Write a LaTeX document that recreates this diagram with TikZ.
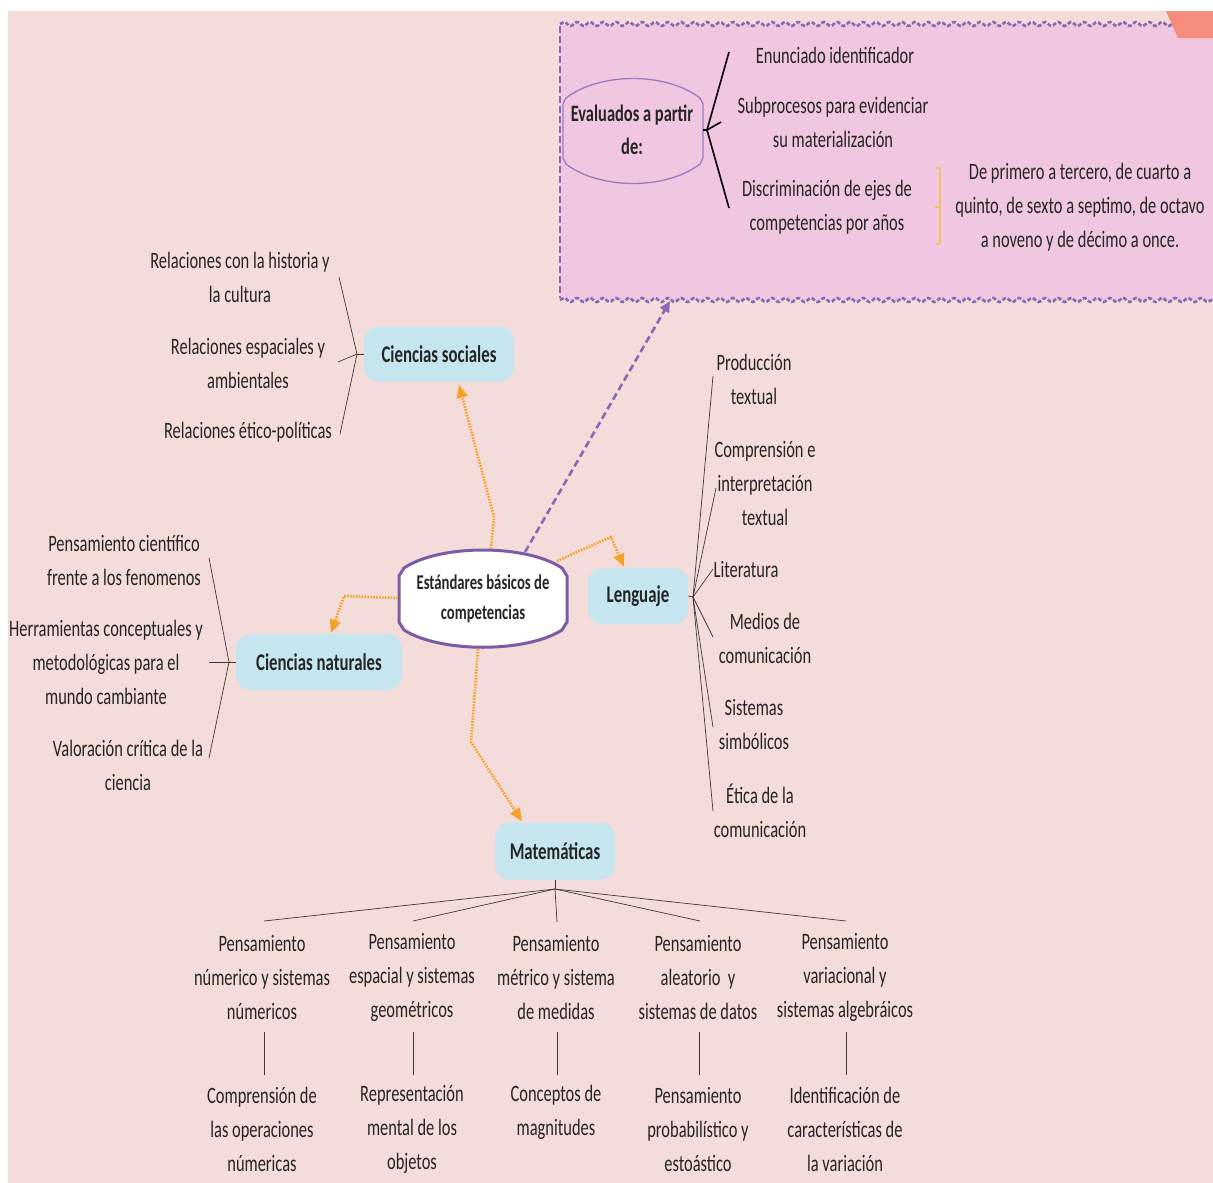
\documentclass[tikz,border=0pt]{standalone}
\usepackage{fontspec}
\setmainfont{Carlito}[FakeStretch=0.7]
\usetikzlibrary{arrows.meta,decorations.pathmorphing,calc}
\definecolor{bgpink}{HTML}{F4DCDB}
\definecolor{boxpink}{HTML}{F0C6E0}
\definecolor{wavy}{HTML}{8A68B5}
\definecolor{nodeblue}{HTML}{C5E6EF}
\definecolor{hubpurple}{HTML}{7B5AA6}
\definecolor{evalpurple}{HTML}{9A7BC2}
\definecolor{orangedot}{HTML}{F5A229}
\definecolor{ink}{HTML}{252525}
\definecolor{wirec}{HTML}{3A3A3A}
\definecolor{bracketc}{HTML}{F3C266}
\definecolor{cornerc}{HTML}{F58C7C}
\begin{document}
\begin{tikzpicture}[x=1pt,y=-1pt,
  lbl/.style={font=\fontsize{23.5}{34}\selectfont, text=ink, align=center, inner sep=0pt},
  topic/.style={fill=nodeblue, rounded corners=15pt, text=ink, inner sep=0pt,
    font=\bfseries\fontsize{24}{30}\selectfont},
  wire/.style={draw=wirec, line width=0.7pt},
  feed/.style={draw=orangedot, line width=2.6pt, dash pattern=on 1.6pt off 1.3pt,
    -{Triangle[length=13pt,width=11pt]}},
  link/.style={draw=wavy, line width=2.6pt, dash pattern=on 7pt off 4pt,
    -{Triangle[length=11pt,width=10pt]}},
  edge wave/.style={draw=wavy, line width=2.6pt, dash pattern=on 4pt off 2pt,
    decorate, decoration={snake, segment length=13pt, amplitude=2pt}},
]
\useasboundingbox (0,0) rectangle (1213,1183);
\fill[white] (0,0) rectangle (1213,1183);
\fill[bgpink] (8,11) rectangle (1213,1183);

% ---------- framed panel with the evaluation criteria ----------
\fill[boxpink] (560,24) rectangle (1213,300);
\draw[edge wave] (560,24) -- (1213,24);
\draw[edge wave] (560,300) -- (1213,300);
\draw[draw=wavy, line width=2.4pt, dash pattern=on 7pt off 3pt] (560,26) -- (560,298);
\fill[cornerc] (1166,11) -- (1213,11) -- (1213,38) -- (1178,38) -- cycle;

\draw[evalpurple, line width=1.3pt]
  (566,98) .. controls (600,72) and (666,72) .. (700,98) -- (703,104) -- (703,158)
  -- (700,164) .. controls (666,190) and (600,190) .. (566,164) -- (563,158) -- (563,104) -- cycle;
\node[lbl, font=\bfseries\fontsize{23.5}{33}\selectfont] (eval) at (632,130) {Evaluados a partir\\de:};

\node[lbl] (e1) at (835,55) {Enunciado identificador};
\node[lbl] (e2) at (833,122) {Subprocesos para evidenciar\\su materialización};
\node[lbl] (e3) at (827,207) {Discriminación de ejes de\\competencias por años};
\node[lbl] (e4) at (1080,207) {De primero a tercero, de cuarto a\\quinto, de sexto a septimo, de octavo\\a noveno y de décimo a once.};

\coordinate (eOut) at (703,130);
\coordinate (eJ) at (707,130);
\coordinate (eA) at (729,52);
\coordinate (eB) at (721,122);
\coordinate (eC) at (729,208);
\draw[black, line width=1.6pt] (eOut) -- (eJ) -- (eA);
\draw[black, line width=1.6pt] (eJ) -- (eB);
\draw[black, line width=1.6pt] (eJ) -- (eC);

\coordinate (bT) at (936,168);
\coordinate (bB) at (936,244);
\coordinate (bM) at (935,207);
\draw[bracketc, line width=1.3pt] (bT) -- (940,168) -- (940,244) -- (bB);
\draw[bracketc, line width=1.3pt] (940,207) -- (bM);

% ---------- central hub ----------
\draw[hubpurple, line width=3pt, fill=white]
  (404,568) .. controls (440,544) and (526,544) .. (562,568) -- (567,576) -- (567,622)
  -- (562,630) .. controls (526,653) and (440,653) .. (404,630) -- (399,622) -- (399,576) -- cycle;
\node[lbl, font=\bfseries\fontsize{21}{30}\selectfont] (hub) at (483,599) {Estándares básicos de\\competencias};
\coordinate (hubN) at (491,549);
\coordinate (hubNE) at (557,561);
\coordinate (hubW) at (398,598);
\coordinate (hubS) at (478,649);
\coordinate (hubLink) at (525,552);

% ---------- second level topics ----------
\node[topic, minimum width=150pt, minimum height=55pt] (soc) at (439,354) {Ciencias sociales};
\node[topic, minimum width=100pt, minimum height=56pt] (lang) at (638,596) {Lenguaje};
\node[topic, minimum width=166pt, minimum height=56pt] (nat) at (319,662) {Ciencias naturales};
\node[topic, minimum width=120pt, minimum height=57pt] (mat) at (555,851) {Matemáticas};

\draw[feed] (hubN) -- (494,517) -- ($(soc.south)+(20,3)$);
\draw[feed] (hubNE) -- (611,537) -- ($(lang.north)+(-14,-1)$);
\draw[feed] (hubW) -- (344,596) -- ($(nat.north)+(12,-1)$);
\draw[feed] (hubS) -- (471,742) -- ($(mat.north)+(-33,-1)$);
\draw[link] (hubLink) -- (670,301);

% ---------- Ciencias sociales ----------
\node[lbl] (s1) at (240,277) {Relaciones con la historia y\\la cultura};
\node[lbl] (s2) at (248,363) {Relaciones espaciales y\\ambientales};
\node[lbl] (s3) at (248,432) {Relaciones ético-políticas};
\coordinate (sJ) at (357,354);
\coordinate (sA) at (339,277);
\coordinate (sB) at (338,362);
\coordinate (sC) at (340,434);
\draw[wire] (soc.west) -- (sJ);
\draw[wire] (sJ) -- (sA);
\draw[wire] (sJ) -- (sB);
\draw[wire] (sJ) -- (sC);

% ---------- Ciencias naturales ----------
\node[lbl] (n1) at (124,560) {Pensamiento científico\\frente a los fenomenos};
\node[lbl] (n2) at (106,662) {Herramientas conceptuales y\\metodológicas para el\\mundo cambiante};
\node[lbl] (n3) at (128,765) {Valoración crítica de la\\ciencia};
\coordinate (nJ) at (229,662);
\coordinate (nA) at (209,558);
\coordinate (nB) at (209,662);
\coordinate (nC) at (209,758);
\draw[wire] (nat.west) -- (nJ);
\draw[wire] (nJ) -- (nA);
\draw[wire] (nJ) -- (nB);
\draw[wire] (nJ) -- (nC);

% ---------- Lenguaje ----------
\node[lbl] (l1) at (754,379) {Producción\\textual};
\node[lbl] (l2) at (765,483) {Comprensión e\\interpretación\\textual};
\node[lbl] (l3) at (746,569) {Literatura};
\node[lbl] (l4) at (765,638) {Medios de\\comunicación};
\node[lbl] (l5) at (754,724) {Sistemas\\simbólicos};
\node[lbl] (l6) at (760,811) {Ética de la\\comunicación};
\coordinate (lJ) at (693,597);
\coordinate (lA) at (713,376);
\coordinate (lB) at (716,488);
\coordinate (lC) at (713,569);
\coordinate (lD) at (713,637);
\coordinate (lE) at (713,727);
\coordinate (lF) at (713,811);
\draw[wire] (lang.east) -- (lJ);
\foreach \e in {lA,lB,lC,lD,lE,lF} \draw[wire] (lJ) -- (\e);

% ---------- Matemáticas ----------
\node[lbl] (p1) at (262,977) {Pensamiento\\númerico y sistemas\\númericos};
\node[lbl] (p2) at (412,977) {Pensamiento\\espacial y sistemas\\geométricos};
\node[lbl] (p3) at (556,977) {Pensamiento\\métrico y sistema\\de medidas};
\node[lbl] (p4) at (698,977) {Pensamiento\\aleatorio\ \ y\\sistemas de datos};
\node[lbl] (p5) at (845,977) {Pensamiento\\variacional y\\sistemas algebráicos};

\node[lbl] (q1) at (262,1129) {Comprensión de\\las operaciones\\númericas};
\node[lbl] (q2) at (412,1129) {Representación\\mental de los\\objetos};
\node[lbl] (q3) at (556,1112) {Conceptos de\\magnitudes};
\node[lbl] (q4) at (698,1129) {Pensamiento\\probabilístico y\\estoástico};
\node[lbl] (q5) at (845,1129) {Identificación de\\características de\\la variación};

\coordinate (mJ) at (555,889);
\draw[wire] (mat.south) -- (mJ);
\coordinate (mA) at (264,921);
\coordinate (mB) at (413,921);
\coordinate (mC) at (557,922);
\coordinate (mD) at (700,921);
\coordinate (mE) at (846,921);
\foreach \e in {mA,mB,mC,mD,mE} \draw[wire] (mJ) -- (\e);

\foreach \x/\a/\b in {264/p1/q1,413/p2/q2,557/p3/q3,699/p4/q4,846/p5/q5}{
  \coordinate (\a x) at (\x,1032);
  \coordinate (\b x) at (\x,1075);
  \draw[wire] (\a x) -- (\b x);
}
\end{tikzpicture}
\end{document}
